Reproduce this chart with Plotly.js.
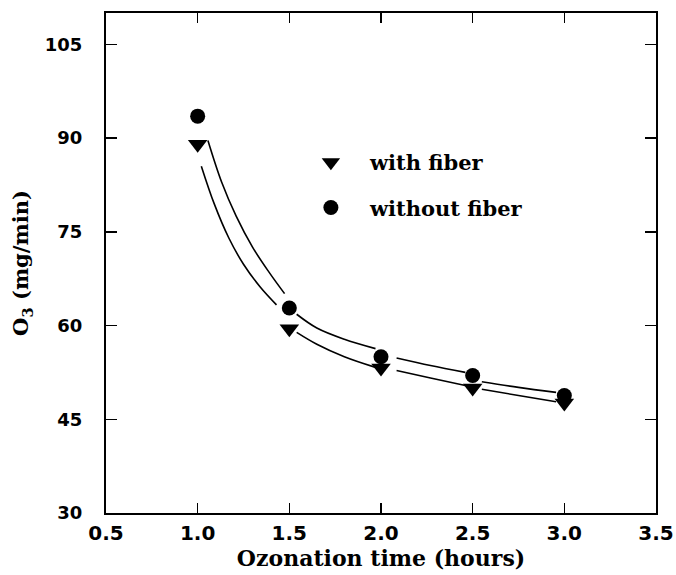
<!DOCTYPE html>
<html>
<head>
<meta charset="utf-8">
<script src="https://cdn.plot.ly/plotly-3.0.1.min.js"></script>
<style>html,body{margin:0;padding:0;background:#fff;}#chart{width:676px;height:575px;}</style>
</head>
<body>
<div id="chart"></div>
<script>
// Measured points
const timeHours = [1.0, 1.5, 2.0, 2.5, 3.0];
const withFiber = [89.0, 59.5, 53.2, 50.0, 47.6];
const withoutFiber = [93.5, 62.8, 55.0, 52.0, 48.8];

// Fitted curves as drawn, null = gap around markers
const fitUpperX = [1.056, 1.13, 1.21, 1.30, 1.39, 1.474, null, 1.54, 1.65, 1.80, 1.97, null, 2.085, 2.27, 2.46, null, 2.55, 2.75, 2.955];
const fitUpperY = [89.6, 83.0, 77.5, 72.5, 68.5, 65.1, null, 61.8, 59.6, 57.8, 56.3, null, 54.8, 53.6, 52.5, null, 51.0, 50.1, 49.3];
const fitLowerX = [1.02, 1.09, 1.17, 1.25, 1.34, 1.43, null, 1.54, 1.65, 1.80, 1.97, null, 2.085, 2.27, 2.46, null, 2.55, 2.75, 2.955];
const fitLowerY = [85.5, 79.5, 74.0, 69.8, 66.2, 63.3, null, 58.9, 57.0, 55.0, 53.3, null, 52.8, 51.6, 50.4, null, 49.8, 48.8, 47.8];

const xTicks = [0.5, 1.0, 1.5, 2.0, 2.5, 3.0, 3.5];
const xTickText = ['0.5', '1.0', '1.5', '2.0', '2.5', '3.0', '3.5'];
const yTicks = [30, 45, 60, 75, 90, 105];

const slab = 'DejaVu Serif';
const sans = 'DejaVu Sans';

const traces = [
  {x: fitUpperX, y: fitUpperY, mode: 'lines', line: {color: '#000', width: 1.6, shape: 'spline'}, connectgaps: false, showlegend: false, hoverinfo: 'skip'},
  {x: fitLowerX, y: fitLowerY, mode: 'lines', line: {color: '#000', width: 1.6, shape: 'spline'}, connectgaps: false, showlegend: false, hoverinfo: 'skip'},
  {x: timeHours, y: withFiber, mode: 'markers', name: 'with fiber', legendgroup: 'a',
   marker: {symbol: 'triangle-down', size: 17, color: '#000'}},
  {x: timeHours, y: withoutFiber, mode: 'markers', name: 'without fiber', legendgroup: 'b',
   marker: {symbol: 'circle', size: 15, color: '#000'}}
];

const layout = {
  width: 676, height: 575,
  margin: {l: 106, r: 20, t: 13, b: 62},
  paper_bgcolor: '#fff', plot_bgcolor: '#fff',
  showlegend: true,
  legend: {x: 0.338, y: 0.742, xanchor: 'left', yanchor: 'top', bgcolor: 'rgba(0,0,0,0)',
    font: {family: slab, size: 21, color: '#000', weight: 'bold'}, traceorder: 'grouped', tracegroupgap: 15, itemwidth: 68},
  xaxis: {
    range: [0.5, 3.5], tickvals: xTicks, ticktext: xTickText,
    ticks: 'inside', ticklen: 10, tickwidth: 1.5, tickcolor: '#000',
    showline: true, linecolor: '#000', linewidth: 2, mirror: 'ticks',
    showgrid: false, zeroline: false,
    tickfont: {family: sans, size: 20, color: '#000', weight: 'bold'},
    ticklabelstandoff: 1,
    title: {text: 'Ozonation time (hours)', font: {family: slab, size: 22, color: '#000', weight: 'bold'}, standoff: 5}
  },
  yaxis: {
    range: [30, 110], tickvals: yTicks,
    ticks: 'inside', ticklen: 11, tickwidth: 1.5, tickcolor: '#000',
    showline: true, linecolor: '#000', linewidth: 2, mirror: 'ticks',
    showgrid: false, zeroline: false,
    tickfont: {family: sans, size: 18, color: '#000', weight: 'bold'},
    ticklabelstandoff: 18,
    title: {text: 'O<sub>3</sub> (mg/min)', font: {family: slab, size: 21, color: '#000', weight: 'bold'}, standoff: 10}
  }
};

Plotly.newPlot('chart', traces, layout, {displayModeBar: false, staticPlot: true});
</script>
</body>
</html>
